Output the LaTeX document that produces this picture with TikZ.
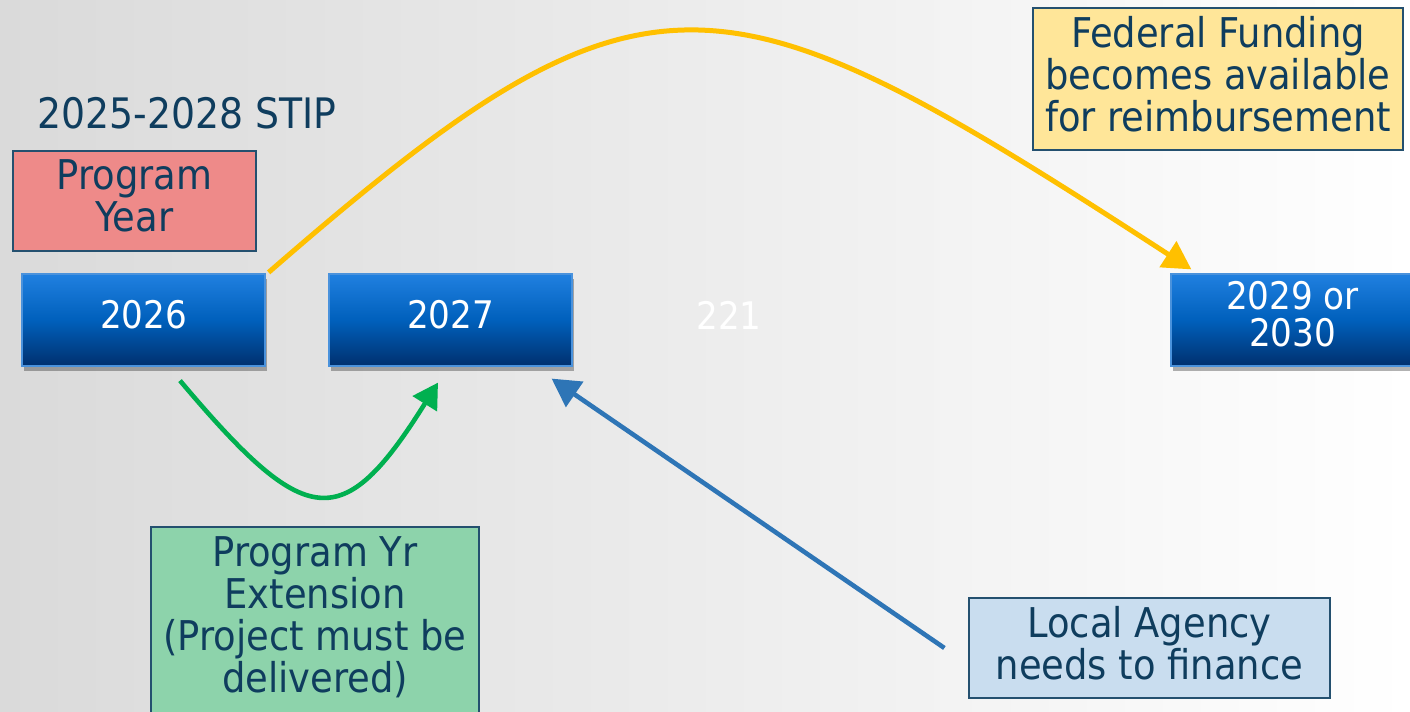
\documentclass[tikz,border=0pt]{standalone}
\usepackage{fontspec}
\setmainfont{DejaVu Sans Condensed}
\usepackage{tikz}
\usetikzlibrary{arrows.meta}
\usetikzlibrary{shadows}
\usepackage{xcolor}

\definecolor{inkblue}{HTML}{0F3D5E}
\definecolor{bgleft}{HTML}{DADADA}
\definecolor{yeartop}{HTML}{2080E0}
\definecolor{yearmid}{HTML}{0060BC}
\definecolor{yearbot}{HTML}{00306E}
\definecolor{yearedge}{HTML}{4A92DC}
\definecolor{pinkfill}{HTML}{EE8A89}
\definecolor{yellowfill}{HTML}{FFE699}
\definecolor{greenfill}{HTML}{8DD3AB}
\definecolor{lightfill}{HTML}{C9DDEF}
\definecolor{boxedge}{HTML}{24506F}
\definecolor{fundarrow}{HTML}{FFC000}
\definecolor{extarrow}{HTML}{00B050}
\definecolor{finarrow}{HTML}{2E75B6}

\tikzset{
  yearbox/.style={draw=yearedge, line width=0.6pt, top color=yeartop, bottom color=yearbot, middle color=yearmid,
    text=white, inner sep=0pt, align=center, minimum width=121.5pt, minimum height=46pt, text depth=6pt,
    font=\fontsize{19}{18.5}\selectfont,
    drop shadow={shadow xshift=1pt, shadow yshift=-2.5pt, opacity=0.3, fill=black}},
  notebox/.style={draw=boxedge, line width=0.6pt, text=inkblue, inner sep=0pt, align=center, text depth=5pt,
    font=\fontsize{20.5}{21}\selectfont},
}

\begin{document}
\begin{tikzpicture}[x=0.5pt,y=0.5pt,yscale=-1,xscale=1]
%set diagram size to the slide
\useasboundingbox (0,0) rectangle (1410,712);
\shade [left color=bgleft, right color=white] (0,0) rectangle (1410,712);

% Text Node
\node (stip) at (187,113) [text=inkblue, inner sep=0pt, font=\fontsize{21}{24}\selectfont] {2025-2028 STIP};

%Shape: Rectangle
\node (progyear) at (134.5,201) [notebox, fill=pinkfill, minimum width=121.5pt, minimum height=50pt] {Program\\Year};
%Shape: Rectangle
\node (fedfund) at (1218,79) [notebox, fill=yellowfill, minimum width=185pt, minimum height=71pt] {Federal Funding\\becomes available\\for reimbursement};
%Shape: Rectangle
\node (ext) at (315,622) [notebox, fill=greenfill, minimum width=164pt, minimum height=95pt, text depth=7pt] {Program Yr\\Extension\\(Project must be\\delivered)};
%Shape: Rectangle
\node (agency) at (1149.5,648) [notebox, fill=lightfill, minimum width=180.5pt, minimum height=50pt] {Local Agency\\needs to finance};

%Year boxes
\node (y2026) at (143.5,320) [yearbox] {2026};
\node (y2027) at (450.5,320) [yearbox] {2027};
\node (y2030) at (1292.5,320) [yearbox] {2029 or\\2030};

% Text Node
\node (hidden) at (729,315) [text=white, inner sep=0pt, font=\fontsize{19}{22}\selectfont] {221};

%Arrow ends
\coordinate (fundstart) at ([shift={(3,-1)}]y2026.north east);
\coordinate (fundend) at ([shift={(21,-4)}]y2030.north west);
\coordinate (extstart) at ([shift={(36.5,14)}]y2026.south);
\coordinate (extend) at ([shift={(-12.5,16)}]y2027.south);
\coordinate (finstart) at ([xshift=-12pt]agency.west);
\coordinate (finend) at ([shift={(-21,12)}]y2027.south east);

%Curve Lines
\draw [color=fundarrow, line width=2.5pt, -{Triangle[width=15pt,length=14pt]}] (fundstart) .. controls (648,-58) and (718,-38) .. (fundend);
%Curve Lines
\draw [color=extarrow, line width=2.3pt, -{Triangle[width=14pt,length=12.5pt]}] (extstart) .. controls (306,530) and (342,536) .. (extend);
%Straight Lines
\draw [color=finarrow, line width=2.3pt, -{Triangle[width=15pt,length=14pt]}] (finstart) -- (finend);

\end{tikzpicture}
\end{document}
